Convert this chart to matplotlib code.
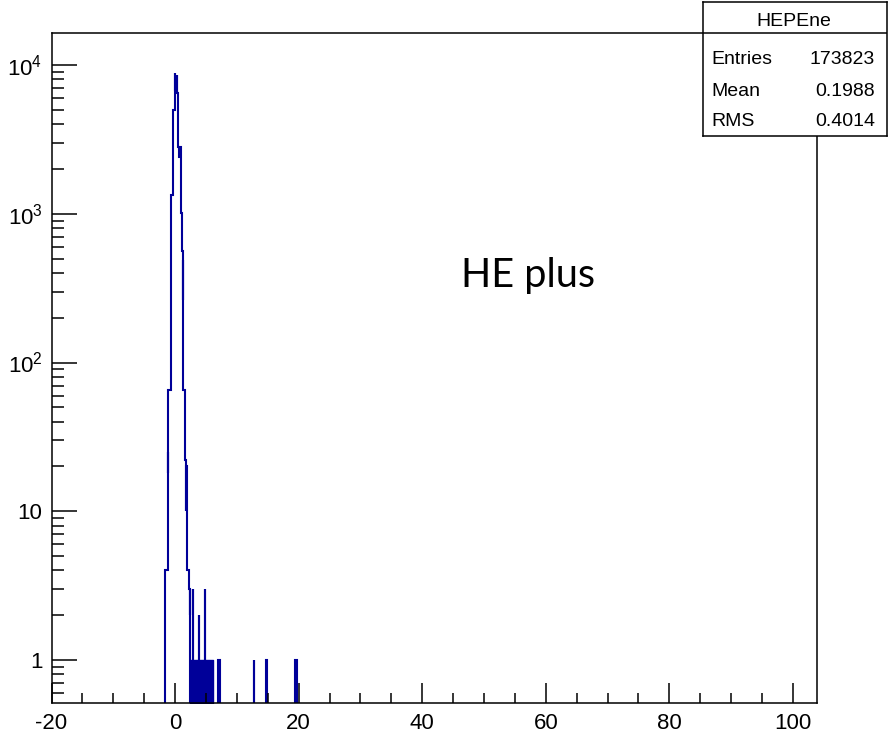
import matplotlib
matplotlib.use("Agg")
import matplotlib.pyplot as plt
from matplotlib.ticker import FixedLocator, FixedFormatter, LogLocator, MultipleLocator, NullFormatter

plt.rcParams['font.family'] = ['Liberation Sans', 'DejaVu Sans']
plt.rcParams['axes.unicode_minus'] = False

# histogram outline of the main peak (edges / counts)
core_edges = [-1.68, -1.65, -1.62, -1.22, -1.20, -1.17, -1.14, -0.62, -0.61, -0.59,
              -0.32, -0.05, 0.05, 0.12, 0.22, 0.30, 0.38, 0.49, 0.65, 0.80,
              0.92, 1.02, 1.05, 1.10, 1.28, 1.31, 1.34, 1.67, 1.80, 1.84,
              1.88, 2.31, 2.34, 2.37, 2.40]
core_counts = [1, 3, 4, 12, 25, 18, 65, 320, 410, 1337,
               4985, 8790, 6800, 8600, 6600, 8500, 6450, 2825, 2420, 2800,
               2420, 1012, 778, 560, 263, 489, 65, 22, 10, 20,
               4, 3, 2, 3]

# isolated bins in the tail
spike_lo = [2.93, 3.80, 4.78, 7.00, 12.78, 14.78, 19.45]
spike_hi = [2.98, 3.95, 4.92, 7.35, 12.84, 14.84, 19.80]
spike_counts = [3, 2, 3, 1, 1, 1, 1]

# dense run of single entries, looks solid at height 1
block_lo, block_hi = 2.40, 6.20
block_count = 1

x_ticks = [-20, 0, 20, 40, 60, 80, 100]
y_ticks = [1, 10, 100, 1000, 10000]
y_labels = ['1', '10', r'$\mathregular{10^{2}}$', r'$\mathregular{10^{3}}$', r'$\mathregular{10^{4}}$']

stats_title = "HEPEne"
stats_labels = ["Entries", "Mean", "RMS"]
stats_values = ["173823", "0.1988", "0.4014"]

blue = '#000099'
W, H = 888, 735

fig = plt.figure(figsize=(W / 100, H / 100), dpi=100)
ax = fig.add_axes([51.5 / W, 1 - 703.3 / H, (817 - 51.5) / W, (703.3 - 33) / H])

ax.stairs(core_counts, core_edges, baseline=1e-3, color=blue, lw=1.5)
for lo, hi, c in zip(spike_lo, spike_hi, spike_counts):
    ax.stairs([c], [lo, hi], baseline=1e-3, color=blue, lw=1.5)
ax.fill_between([block_lo, block_hi], 1e-3, block_count, color=blue, lw=1.0,
                edgecolor=blue)

ax.set_yscale('log')
ax.set_xlim(-20, 103.9)
ax.set_ylim(0.512, 16400)

ax.xaxis.set_major_locator(FixedLocator(x_ticks))
ax.xaxis.set_minor_locator(MultipleLocator(5))
ax.yaxis.set_major_locator(FixedLocator(y_ticks))
ax.yaxis.set_major_formatter(FixedFormatter(y_labels))
ax.yaxis.set_minor_locator(LogLocator(base=10, subs=range(2, 10)))
ax.yaxis.set_minor_formatter(NullFormatter())

ax.tick_params(axis='both', which='both', direction='in', width=1.1,
               top=False, right=False, labelsize=16, colors='black')
ax.tick_params(axis='x', which='major', length=14.5, pad=7)
ax.tick_params(axis='x', which='minor', length=7.2)
ax.tick_params(axis='y', which='major', length=18, pad=6.5)
ax.tick_params(axis='y', which='minor', length=8.6)
for s in ax.spines.values():
    s.set_linewidth(1.1)

# stats box, coordinates in picture pixels
box = fig.add_axes([702.7 / W, 1 - 136 / H, (886.5 - 702.7) / W, (136 - 1.7) / H])
box.set_xlim(702.7, 886.5)
box.set_ylim(136, 1.7)
box.set_xticks([])
box.set_yticks([])
for s in box.spines.values():
    s.set_linewidth(1.1)
box.axhline(33.3, color='black', lw=1.1)
box.text(794, 22, stats_title, ha='center', va='center', fontsize=14)
for lab, val, yy in zip(stats_labels, stats_values, [59, 91, 122]):
    box.text(711.7, yy, lab, ha='left', va='center', fontsize=14)
    box.text(875, yy, val, ha='right', va='center', fontsize=14)

fig.text(460.7 / W, 1 - 286.7 / H, "HE plus", family=['Lato', 'DejaVu Sans'],
         fontsize=28.5, ha='left', va='baseline')

fig.savefig("out.png", dpi=100)
